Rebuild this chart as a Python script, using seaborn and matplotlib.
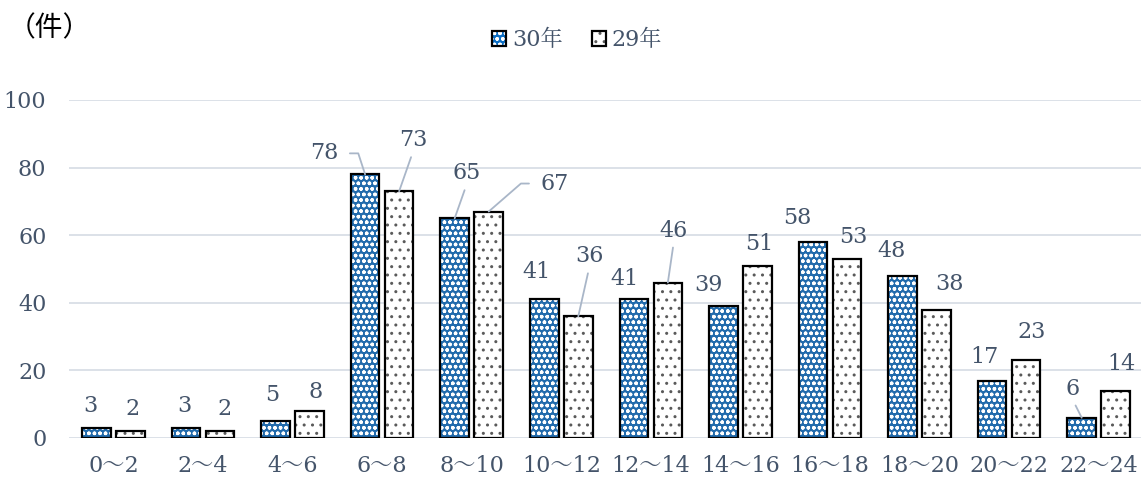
import matplotlib
matplotlib.use("Agg")
import matplotlib.pyplot as plt
from matplotlib.patches import Rectangle, Patch
from matplotlib.legend_handler import HandlerTuple
import seaborn as sns
import pandas as pd

# ---- data ----------------------------------------------------------------
categories = ['0～2', '2～4', '4～6', '6～8', '8～10', '10～12',
              '12～14', '14～16', '16～18', '18～20', '20～22', '22～24']
series_names = ['30年', '29年']
counts_30 = [3, 3, 5, 78, 65, 41, 41, 39, 58, 48, 17, 6]
counts_29 = [2, 2, 8, 73, 67, 36, 46, 51, 53, 38, 23, 14]
y_ticks = [0, 20, 40, 60, 80, 100]
unit_label = '（件）'

# ---- styling ---------------------------------------------------------------
TEXT = '#44546A'
GRID = '#D9DEE6'
LEADER = '#A9B6C8'
BLUE = '#0B6DC3'
DOT_GRAY = '#5A5A5A'
FS = 16

sns.set_theme(style='white')
plt.rcParams['font.family'] = ['DejaVu Serif', 'Noto Serif CJK JP']
plt.rcParams['hatch.linewidth'] = 1.0

fills = {'30年': BLUE, '29年': 'white'}
hatch_colors = {'30年': 'white', '29年': DOT_GRAY}
hatches = {'30年': 'ooo', '29年': '..'}

# label offsets (pixels) from the top centre of each bar
label_offsets = {
    '30年': [(-6, 22), (-2, 22), (-3, 26), (-41, 21), (12, 45), (-8, 27),
             (-9, 20), (-15, 21), (-16, 24), (-11, 25), (-8, 24), (-9, 29)],
    '29年': [(2, 22), (5, 22), (6, 19), (14, 51), (66, 28), (11, 60),
             (6, 52), (2, 22), (6, 22), (13, 26), (5, 28), (6, 27)],
}
# leader lines: straight from label bottom, or elbow (angleA, angleB, relpos)
leaders = {
    ('30年', 3): ('elbow', 0, 108, (1, 0.5)),
    ('30年', 4): ('straight',),
    ('30年', 11): ('straight',),
    ('29年', 3): ('straight',),
    ('29年', 4): ('elbow', 180, 41, (0, 0.5)),
    ('29年', 5): ('straight',),
    ('29年', 6): ('straight',),
}

df = pd.DataFrame({
    'slot': categories * 2,
    'year': ['30年'] * len(categories) + ['29年'] * len(categories),
    'count': counts_30 + counts_29,
})

fig = plt.figure(figsize=(11.41, 4.79), dpi=100)
ax = fig.add_axes([68.6 / 1141, 41 / 479, 1074.9 / 1141, 338 / 479])

sns.barplot(data=df, x='slot', y='count', hue='year', order=categories,
            hue_order=series_names, palette=fills, width=0.76, gap=0.16,
            linewidth=0, legend=False, ax=ax, zorder=2)

# hatch each bar, then outline it in black
values = {'30年': counts_30, '29年': counts_29}
for name, container in zip(series_names, ax.containers):
    for i, bar in enumerate(container):
        bar.set_hatch(hatches[name])
        bar.set_edgecolor(hatch_colors[name])
        bar.set_linewidth(0)
        ax.add_patch(Rectangle((bar.get_x(), bar.get_y()), bar.get_width(),
                               bar.get_height(), fill=False, edgecolor='black',
                               linewidth=1.6, zorder=3))
        cx = bar.get_x() + bar.get_width() / 2
        top = bar.get_height()
        dx, dy = label_offsets[name][i]
        spec = leaders.get((name, i))
        arrow = None
        if spec is not None and spec[0] == 'straight':
            arrow = dict(arrowstyle='-', color=LEADER, lw=1.3, shrinkA=2,
                         shrinkB=0, relpos=(0.5, 0))
        elif spec is not None:
            _, a_ang, b_ang, rel = spec
            arrow = dict(arrowstyle='-', color=LEADER, lw=1.3, shrinkA=6,
                         shrinkB=0, relpos=rel,
                         connectionstyle=f'angle,angleA={a_ang},angleB={b_ang},rad=0')
        ax.annotate(str(values[name][i]), xy=(cx, top), xytext=(dx, dy),
                    textcoords='offset pixels', ha='center', va='center',
                    fontsize=FS, color=TEXT, arrowprops=arrow, zorder=4)

ax.set_xlim(-0.5, 11.5)
ax.set_ylim(0, 100)
ax.set_yticks(y_ticks)
ax.set_xlabel('')
ax.set_ylabel('')
for s in ax.spines.values():
    s.set_visible(False)
ax.yaxis.grid(True, color=GRID, linewidth=1.3, zorder=0)
ax.set_axisbelow(True)
ax.tick_params(axis='y', length=0, pad=16, labelsize=FS, labelcolor=TEXT)
ax.tick_params(axis='x', length=0, pad=12, labelsize=FS, labelcolor=TEXT)

# legend with hatched swatches and black outlines
handles = []
for name in series_names:
    handles.append((Patch(facecolor=fills[name], edgecolor=hatch_colors[name],
                          hatch=hatches[name], linewidth=0),
                    Patch(fill=False, edgecolor='black', linewidth=1.6)))
fig.legend(handles, series_names,
           handler_map={tuple: HandlerTuple(ndivide=1, pad=0)},
           loc='center', bbox_to_anchor=(577 / 1141, 1 - 40 / 479), ncol=2,
           frameon=False, fontsize=FS, labelcolor=TEXT, handlelength=0.65,
           handleheight=0.65, handletextpad=0.25, columnspacing=1.3)

fig.text(8 / 1141, 1 - 28 / 479, unit_label, fontsize=20, color='black',
         ha='left', va='center', family=['Noto Sans CJK JP', 'DejaVu Sans'])

fig.savefig('out.png', dpi=100)
